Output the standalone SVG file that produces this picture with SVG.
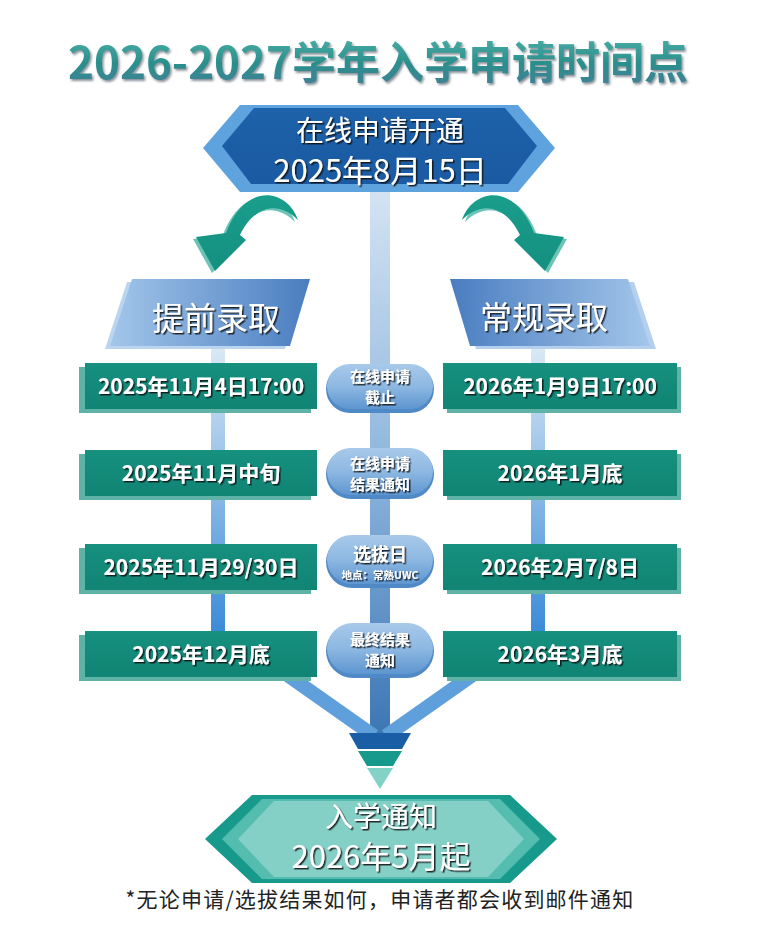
<svg xmlns="http://www.w3.org/2000/svg" width="759" height="950" viewBox="0 0 759 950">
<defs>
  <style>
    .cjk{font-family:"Noto Sans CJK SC","Liberation Sans",sans-serif;}
    .wt{fill:#ffffff;}
    .date{font-size:21px;font-weight:bold;text-anchor:middle;}
    .pill{font-size:15px;font-weight:bold;text-anchor:middle;}
    .boxsh{fill:#5fb2a6;}
    .pillbase{fill:#4f89c6;}
  </style>
  <filter id="ts" x="-10%" y="-20%" width="130%" height="150%">
    <feDropShadow dx="1.5" dy="1.5" stdDeviation="0.5" flood-color="#111111" flood-opacity="0.85"/>
  </filter>
  <filter id="tts" x="-5%" y="-20%" width="110%" height="150%">
    <feDropShadow dx="1.5" dy="2" stdDeviation="0.8" flood-color="#3a4a55" flood-opacity="0.6"/>
  </filter>
  <linearGradient id="titleG" x1="0" y1="0" x2="0" y2="1">
    <stop offset="0" stop-color="#55b8ae"/>
    <stop offset="0.55" stop-color="#2a8f8c"/>
    <stop offset="1" stop-color="#477d98"/>
  </linearGradient>
  <linearGradient id="centerBar" gradientUnits="userSpaceOnUse" x1="0" y1="192" x2="0" y2="735">
    <stop offset="0" stop-color="#d3e3f2"/>
    <stop offset="0.5" stop-color="#8fb6de"/>
    <stop offset="1" stop-color="#3c76b4"/>
  </linearGradient>
  <linearGradient id="sideBar" gradientUnits="userSpaceOnUse" x1="0" y1="345" x2="0" y2="635">
    <stop offset="0" stop-color="#dce9f5"/>
    <stop offset="1" stop-color="#3a8ad8"/>
  </linearGradient>
  <linearGradient id="hdrL" x1="0" y1="0" x2="1" y2="0">
    <stop offset="0" stop-color="#a3c6ea"/>
    <stop offset="1" stop-color="#4a7dc0"/>
  </linearGradient>
  <linearGradient id="hdrR" x1="0" y1="0" x2="1" y2="0">
    <stop offset="0" stop-color="#4a7dc0"/>
    <stop offset="1" stop-color="#a3c6ea"/>
  </linearGradient>
  <linearGradient id="pillG" x1="0" y1="0" x2="0" y2="1">
    <stop offset="0" stop-color="#a8c9ea"/>
    <stop offset="0.5" stop-color="#8db8e2"/>
    <stop offset="1" stop-color="#5e96d0"/>
  </linearGradient>
  <linearGradient id="boxG" x1="0" y1="0" x2="0" y2="1">
    <stop offset="0" stop-color="#16907f"/>
    <stop offset="1" stop-color="#118474"/>
  </linearGradient>
  <linearGradient id="topInner" x1="0" y1="0" x2="0" y2="1">
    <stop offset="0" stop-color="#1d62aa"/>
    <stop offset="1" stop-color="#1a5aa2"/>
  </linearGradient>
  <linearGradient id="arrowG" x1="0" y1="0" x2="0" y2="1">
    <stop offset="0" stop-color="#1a9e8c"/>
    <stop offset="1" stop-color="#148f80"/>
  </linearGradient>
  <path id="arrowShape" d="M298 220 C288 190 246 180 226 233 L196 237 L215 271 L246 240 L240 235 C254 206 278 200 298 220 Z"/>
</defs>

<rect x="0" y="0" width="759" height="950" fill="#ffffff"/>

<!-- title -->
<text id="title" x="378" y="79" class="cjk" font-size="44" font-weight="bold" text-anchor="middle" fill="url(#titleG)" filter="url(#tts)">2026-2027学年入学申请时间点</text>

<!-- connectors -->
<g id="connectors">
  <rect x="370" y="190" width="20" height="546" fill="url(#centerBar)"/>
  <rect x="211" y="345" width="14" height="290" fill="url(#sideBar)"/>
  <rect x="531" y="345" width="14" height="290" fill="url(#sideBar)"/>
  <line x1="286" y1="674" x2="374" y2="736" stroke="#5e9fdc" stroke-width="14"/>
  <line x1="474" y1="674" x2="386" y2="736" stroke="#5e9fdc" stroke-width="14"/>
  <g id="arrowLeft">
    <use href="#arrowShape" transform="translate(-3,2)" fill="#6cc4b6"/>
    <use href="#arrowShape" fill="url(#arrowG)"/>
  </g>
  <g id="arrowRight" transform="translate(760,0) scale(-1,1)">
    <use href="#arrowShape" transform="translate(-3,2)" fill="#6cc4b6"/>
    <use href="#arrowShape" fill="url(#arrowG)"/>
  </g>
  <g id="funnel">
    <polygon points="349,733 411,733 402,749 358,749" fill="#1a5ea6"/>
    <polygon points="358,751 402,751 393,766 367,766" fill="#179a8b"/>
    <polygon points="367,768 393,768 380,789" fill="#83d2c8"/>
  </g>
</g>

<!-- top node -->
<g id="start">
  <polygon points="203,148 240,105 518,105 555,148 518,192 240,192" fill="#5ea3dd"/>
  <polygon points="222,146 254,108 505,108 537,146 508,184 251,184" fill="url(#topInner)"/>
  <text x="380" y="141" class="cjk wt" font-size="28" text-anchor="middle" filter="url(#ts)">在线申请开通</text>
  <text x="380" y="182" class="cjk wt" font-size="31" text-anchor="middle" filter="url(#ts)">2025年8月15日</text>
</g>

<!-- headers -->
<g id="early">
  <polygon points="127,282 305,282 285,349 105,349" fill="#bcd5ef"/>
  <polygon points="132,279 310,279 290,346 110,346" fill="url(#hdrL)"/>
  <text x="216" y="330" class="cjk wt" font-size="32" text-anchor="middle" filter="url(#ts)">提前录取</text>
</g>
<g id="regular">
  <polygon points="456,282 634,282 656,349 476,349" fill="#b4d0ee"/>
  <polygon points="450,279 628,279 650,346 470,346" fill="url(#hdrR)"/>
  <text x="544" y="329" class="cjk wt" font-size="32" text-anchor="middle" filter="url(#ts)">常规录取</text>
</g>

<!-- left boxes -->
<g id="e1">
  <rect x="79" y="367" width="232" height="46" class="boxsh"/>
  <rect x="85" y="363" width="232" height="46" fill="url(#boxG)"/>
  <text x="201" y="394" class="cjk wt date" filter="url(#ts)">2025年11月4日17:00</text>
</g>
<g id="e2">
  <rect x="79" y="454" width="232" height="46" class="boxsh"/>
  <rect x="85" y="450" width="232" height="46" fill="url(#boxG)"/>
  <text x="201" y="481" class="cjk wt date" filter="url(#ts)">2025年11月中旬</text>
</g>
<g id="e3">
  <rect x="79" y="548" width="232" height="46" class="boxsh"/>
  <rect x="85" y="544" width="232" height="46" fill="url(#boxG)"/>
  <text x="201" y="575" class="cjk wt date" filter="url(#ts)">2025年11月29/30日</text>
</g>
<g id="e4">
  <rect x="79" y="635" width="232" height="46" class="boxsh"/>
  <rect x="85" y="631" width="232" height="46" fill="url(#boxG)"/>
  <text x="201" y="662" class="cjk wt date" filter="url(#ts)">2025年12月底</text>
</g>

<!-- right boxes -->
<g id="r1">
  <rect x="447" y="367" width="234" height="46" class="boxsh"/>
  <rect x="443" y="363" width="234" height="46" fill="url(#boxG)"/>
  <text x="560" y="394" class="cjk wt date" filter="url(#ts)">2026年1月9日17:00</text>
</g>
<g id="r2">
  <rect x="447" y="454" width="234" height="46" class="boxsh"/>
  <rect x="443" y="450" width="234" height="46" fill="url(#boxG)"/>
  <text x="560" y="481" class="cjk wt date" filter="url(#ts)">2026年1月底</text>
</g>
<g id="r3">
  <rect x="447" y="548" width="234" height="46" class="boxsh"/>
  <rect x="443" y="544" width="234" height="46" fill="url(#boxG)"/>
  <text x="560" y="575" class="cjk wt date" filter="url(#ts)">2026年2月7/8日</text>
</g>
<g id="r4">
  <rect x="447" y="635" width="234" height="46" class="boxsh"/>
  <rect x="443" y="631" width="234" height="46" fill="url(#boxG)"/>
  <text x="560" y="662" class="cjk wt date" filter="url(#ts)">2026年3月底</text>
</g>

<!-- center pills -->
<g id="p1">
  <rect x="326" y="365" width="108" height="48" rx="24" class="pillbase"/>
  <rect x="327" y="364" width="106" height="45" rx="22.5" fill="url(#pillG)"/>
  <text x="380" y="382" class="cjk wt pill" filter="url(#ts)">在线申请</text>
  <text x="380" y="403" class="cjk wt pill" filter="url(#ts)">截止</text>
</g>
<g id="p2">
  <rect x="326" y="449" width="108" height="50" rx="25" class="pillbase"/>
  <rect x="327" y="448" width="106" height="47" rx="23.5" fill="url(#pillG)"/>
  <text x="380" y="469" class="cjk wt pill" filter="url(#ts)">在线申请</text>
  <text x="380" y="490" class="cjk wt pill" filter="url(#ts)">结果通知</text>
</g>
<g id="p3">
  <rect x="326" y="536" width="108" height="52" rx="26" class="pillbase"/>
  <rect x="327" y="535" width="106" height="49" rx="24.5" fill="url(#pillG)"/>
  <text x="380" y="561" class="cjk wt" font-size="18" font-weight="bold" text-anchor="middle" filter="url(#ts)">选拔日</text>
  <text x="380" y="579" class="cjk wt" font-size="10.5" font-weight="bold" text-anchor="middle" filter="url(#ts)">地点：常熟UWC</text>
</g>
<g id="p4">
  <rect x="326" y="624" width="108" height="54" rx="27" class="pillbase"/>
  <rect x="327" y="623" width="106" height="51" rx="25.5" fill="url(#pillG)"/>
  <text x="380" y="645" class="cjk wt pill" font-size="16" filter="url(#ts)">最终结果</text>
  <text x="380" y="666" class="cjk wt pill" font-size="16" filter="url(#ts)">通知</text>
</g>

<!-- bottom node -->
<g id="end">
  <polygon points="205,839 252,795 510,795 557,839 510,883 252,883" fill="#17998b"/>
  <polygon points="222,839 262,799 500,799 540,839 500,879 262,879" fill="#55bdb0"/>
  <polygon points="238,839 274,801 488,801 524,839 488,877 274,877" fill="#84cfc6"/>
  <text x="381" y="827" class="cjk wt" font-size="28" text-anchor="middle" filter="url(#ts)">入学通知</text>
  <text x="381" y="868" class="cjk wt" font-size="31" text-anchor="middle" filter="url(#ts)">2026年5月起</text>
</g>

<text id="note" x="380" y="907" class="cjk" font-size="21" letter-spacing="1.2" text-anchor="middle" fill="#222222">*无论申请/选拔结果如何，申请者都会收到邮件通知</text>
</svg>
